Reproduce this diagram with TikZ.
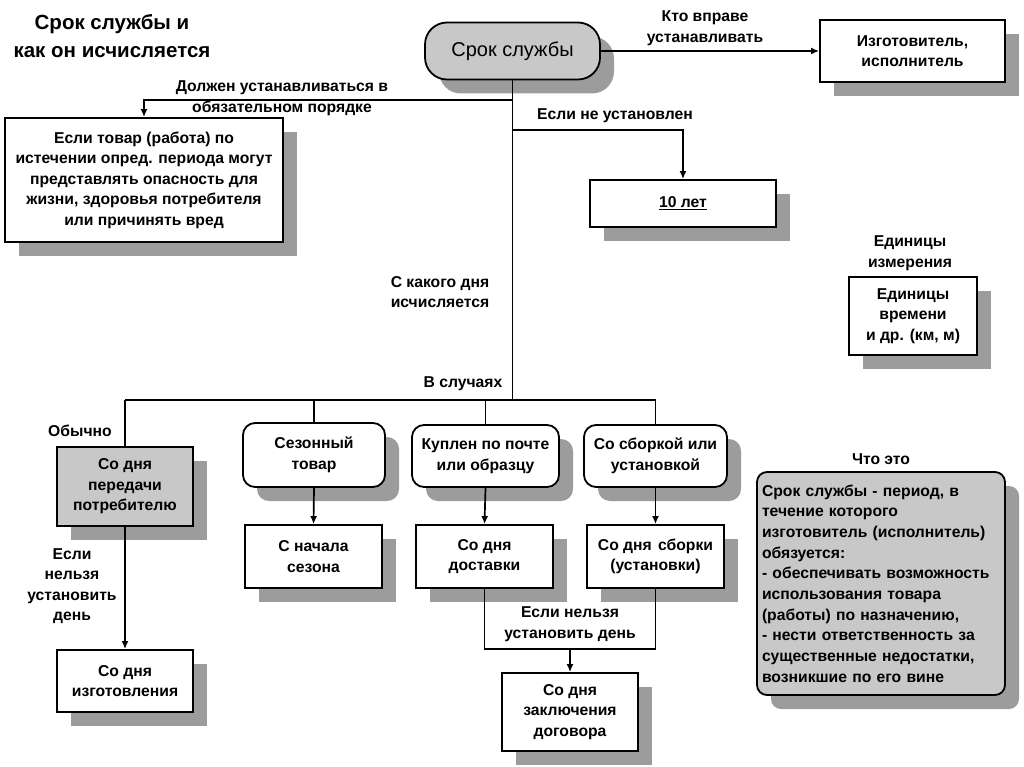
\documentclass[tikz,border=0pt]{standalone}
\usepackage{fontspec}
\setmainfont{Liberation Sans}
\usetikzlibrary{arrows.meta,shadows}
\definecolor{boxgray}{HTML}{C8C8C8}
\definecolor{shgray}{HTML}{9C9C9C}
\begin{document}
\begin{tikzpicture}[x=1pt,y=-1pt,
  txt/.style={font=\fontsize{15.7}{20.5}\selectfont\bfseries, align=center, inner sep=2pt},
  shd/.style={drop shadow={shadow xshift=14pt, shadow yshift=-14pt, fill=shgray, opacity=1}},
  box/.style={draw, line width=1.8pt, fill=white, txt, shd},
  gbox/.style={box, fill=boxgray},
  rbox/.style={box, rounded corners=12pt},
  lbl/.style={txt, inner sep=0pt},
  ln/.style={line width=1.7pt},
  arr/.style={ln, -{Latex[length=8pt,width=7pt]}}
]
\useasboundingbox (0,0) rectangle (1024,767);
\fill[white] (0,0) rectangle (1024,767);

% title
\node[font=\fontsize{20.5}{28}\selectfont\bfseries, align=center, inner sep=0pt] (title) at (112,36) {Срок службы и\\как он исчисляется};

% main node
\node[draw, line width=1.8pt, fill=boxgray, rounded corners=22pt, shd, minimum width=175pt, minimum height=57pt,
      font=\fontsize{20}{22}\selectfont, inner sep=0pt] (main) at (512.5,51) {Срок службы};

\node[box, minimum width=185pt, minimum height=62pt] (izg) at (912.5,51) {Изготовитель,\\исполнитель};
\node[box, minimum width=278pt, minimum height=124pt] (danger) at (144,180)
  {Если товар (работа) по\\истечении опред. периода могут\\представлять опасность для\\жизни, здоровья потребителя\\или причинять вред};
\node[box, minimum width=186pt, minimum height=47pt] (ten) at (683,203.5) {\underline{10 лет}};
\node[box, minimum width=128pt, minimum height=78pt] (units) at (913,316) {Единицы\\времени\\и др. (км, м)};

\node[gbox, minimum width=136pt, minimum height=79pt] (peredachi) at (125,486.5) {Со дня\\передачи\\потребителю};
\node[box, minimum width=136pt, minimum height=62pt] (izgot) at (125,681) {Со дня\\изготовления};

\node[rbox, minimum width=142pt, minimum height=64pt] (sez) at (314,455) {Сезонный\\товар};
\node[box, minimum width=137pt, minimum height=63pt] (nachala) at (313.5,556.5) {С начала\\сезона};
\node[rbox, minimum width=147pt, minimum height=62pt] (kupl) at (485.5,456) {Куплен по почте\\или образцу};
\node[box, minimum width=137pt, minimum height=63pt] (dost) at (484.5,556.5) {Со дня\\доставки};
\node[rbox, minimum width=143pt, minimum height=62pt] (sbork) at (655.5,456) {Со сборкой или\\установкой};
\node[box, minimum width=137pt, minimum height=63pt] (sborki) at (655.5,556.5) {Со дня\hspace{0.4em}сборки\\(установки)};
\node[box, minimum width=136pt, minimum height=78pt] (zakl) at (570,712) {Со дня\\заключения\\договора};

\node[box, fill=boxgray, rounded corners=10pt, minimum width=248pt, minimum height=223pt, text width=238pt, align=left,
      font=\fontsize{15.7}{20.7}\selectfont\bfseries] (chto) at (881,583.5)
  {Срок службы - период, в\\течение которого\\изготовитель (исполнитель)\\обязуется:\\- обеспечивать возможность\\использования товара\\(работы) по назначению,\\- нести ответственность за\\существенные недостатки,\\возникшие по его вине};

% labels
\node[lbl] (l1) at (705,28) {Кто вправе\\устанавливать};
\node[lbl] (l2) at (282,98) {Должен устанавливаться в\\обязательном порядке};
\node[lbl] (l3) at (615,116) {Если не установлен};
\node[lbl] (l4) at (440,292) {С какого дня\\исчисляется};
\node[lbl] (l5) at (463,384) {В случаях};
\node[lbl] (l6) at (80,431) {Обычно};
\node[lbl] (l7) at (72,586) {Если\\нельзя\\установить\\день};
\node[lbl] (l8) at (570,624) {Если нельзя\\установить день};
\node[lbl] (l9) at (910,253) {Единицы\\измерения};
\node[lbl] (l10) at (881,459) {Что это};

% connectors
\coordinate (j1) at (512.5,100);
\coordinate (j2) at (512.5,130);
\coordinate (bus) at (512.5,400);
\coordinate (busL) at (125,400);
\coordinate (busR) at (655.5,400);
\coordinate (low) at (570,649);

\draw[arr] (main.east) -- (izg.west);
\draw[ln] (main.south) -- (bus);
\draw[arr] (j1) -| (danger.north);
\draw[arr] (j2) -| (ten.north);
\draw[ln] (busL) -- (busR);
\draw[ln] (busL) -- (peredachi.north);
\draw[ln] (sez.north |- bus) -- (sez.north);
\draw[ln] (kupl.north |- bus) -- (kupl.north);
\draw[ln] (busR) -- (sbork.north);
\draw[arr] (peredachi.south) -- (izgot.north);
\draw[arr] (sez.south) -- (nachala.north);
\draw[arr] (kupl.south) -- (dost.north);
\draw[arr] (sbork.south) -- (sborki.north);
\draw[ln] (dost.south) -- (dost.south |- low) -- (sborki.south |- low) -- (sborki.south);
\draw[arr] (low) -- (zakl.north);
\end{tikzpicture}
\end{document}
